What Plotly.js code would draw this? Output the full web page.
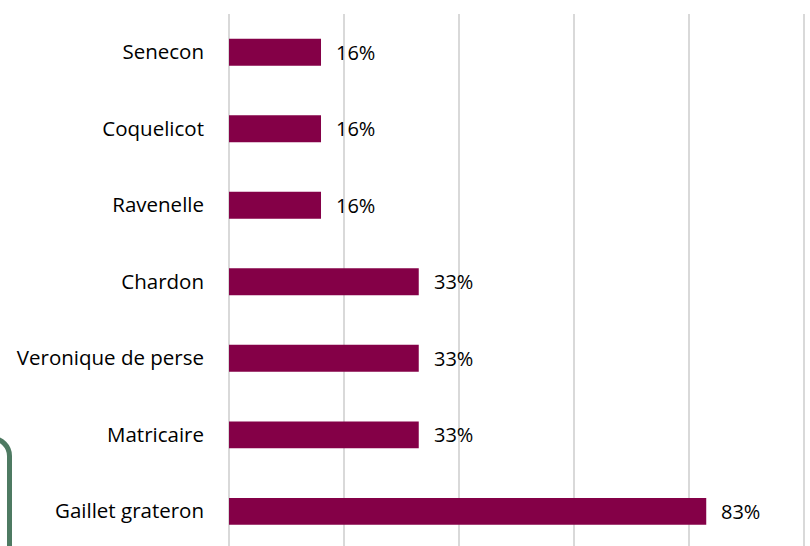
<!DOCTYPE html>
<html>
<head>
<meta charset="utf-8">
<script src="https://cdn.plot.ly/plotly-3.0.1.min.js"></script>
<style>
  html, body { margin: 0; padding: 0; background: #fff; overflow: hidden; }
  #chart { width: 810px; height: 546px; position: relative; }
  #deco { position: absolute; left: -200px; top: 436px; width: 202px; height: 300px;
          border: 5px solid #4e7a62; border-radius: 20px; pointer-events: none; }
</style>
</head>
<body>
<div id="chart"></div>
<div id="deco"></div>
<script>
const categories = ["Gaillet grateron", "Matricaire", "Veronique de perse", "Chardon", "Ravenelle", "Coquelicot", "Senecon"];
const values = [0.83, 0.33, 0.33, 0.33, 0.16, 0.16, 0.16];
const labels = ["83%", "33%", "33%", "33%", "16%", "16%", "16%"];
const gridTicks = [0, 0.2, 0.4, 0.6, 0.8, 1.0];

const FONT = "'Open Sans', sans-serif";

const trace = {
  type: "bar",
  orientation: "h",
  y: categories,
  x: values,
  marker: { color: "#840047", line: { width: 0 } },
  width: 0.35,
  hoverinfo: "none"
};

const annotations = categories.map((c, i) => ({
  x: values[i], y: c, xref: "x", yref: "y",
  text: labels[i], showarrow: false,
  xanchor: "left", yanchor: "middle", xshift: 13,
  font: { family: FONT, size: 20, color: "#000" }
}));

const layout = {
  width: 810, height: 546,
  margin: { l: 227, r: 4, t: 14, b: 0, pad: 0 },
  paper_bgcolor: "#fff", plot_bgcolor: "#fff",
  showlegend: false,
  bargap: 0.65,
  xaxis: {
    range: [-0.0035, 1.0035], tickvals: gridTicks, showticklabels: false,
    showgrid: true, gridcolor: "#d9d9d9", gridwidth: 1.5,
    zeroline: false, showline: false, ticks: "", fixedrange: true
  },
  yaxis: {
    type: "category", categoryorder: "array", categoryarray: categories,
    range: [-0.454, 6.5],
    showgrid: false, zeroline: false, showline: false, ticks: "",
    ticklabelstandoff: 22,
    tickfont: { family: FONT, size: 20.5, color: "#000" },
    fixedrange: true
  },
  annotations: annotations
};

Plotly.newPlot("chart", [trace], layout, { displayModeBar: false, staticPlot: true });
</script>
</body>
</html>
